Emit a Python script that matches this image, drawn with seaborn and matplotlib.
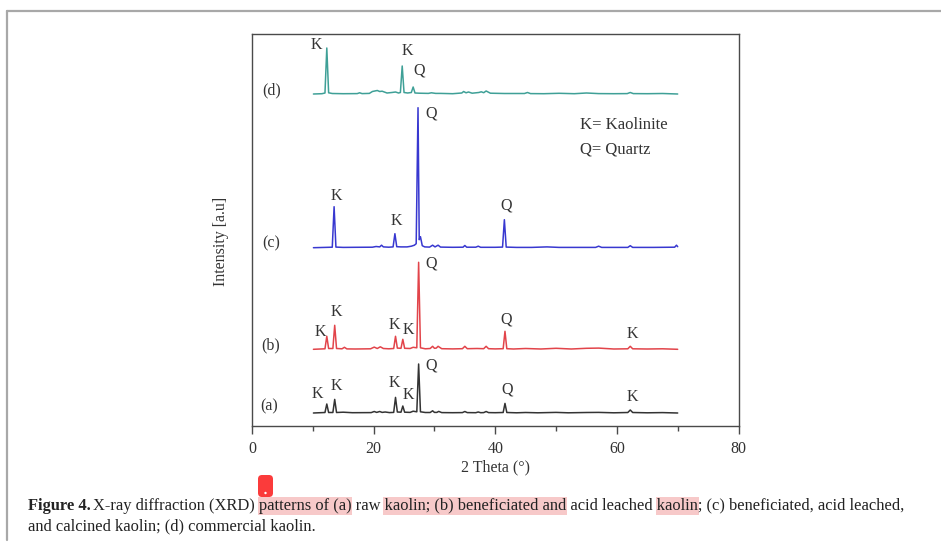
import numpy as np
import pandas as pd
import matplotlib
matplotlib.use("Agg")
import matplotlib.pyplot as plt
import seaborn as sns
from matplotlib.patches import Rectangle, FancyBboxPatch, Circle
from matplotlib.lines import Line2D
from matplotlib.transforms import IdentityTransform

# ---------------- data (2 Theta in degrees, intensity in a.u.) ----------------
a_theta = [10.1, 12.0, 12.3, 12.6, 13.3, 13.6, 13.9, 15.0, 16.5, 19.6, 20.1, 20.5, 21.0, 21.4, 21.9, 22.6,
           23.3, 23.6, 23.9, 24.5, 24.8, 25.1, 26.0, 26.5, 27.1, 27.4, 27.7, 28.5, 29.3, 29.7, 30.0, 30.4,
           30.7, 31.2, 33.0, 34.6, 35.0, 35.4, 36.8, 37.2, 37.6, 38.1, 38.5, 38.9, 40.0, 41.3, 41.6, 41.9,
           43.5, 45.0, 47.0, 50.0, 52.0, 55.0, 57.0, 59.5, 61.8, 62.2, 62.6, 65.0, 67.5, 70.0]
a_int = [0, 0.5, 9, 0.5, 0.5, 13.6, 0.5, 0.8, 0.3, 0.4, 1.5, 0.6, 1.5, 0.6, 1.0, 0.4,
         0.6, 15.6, 1.0, 0.8, 7, 0.8, 0.6, 1.8, 1.2, 49, 1.2, 0.5, 0.5, 2.2, 0.6, 0.6,
         1.6, 0.4, 0.3, 0.4, 1.5, 0.4, 0.3, 1.0, 0.3, 0.4, 1.5, 0.4, 0.3, 0.5, 9.6, 0.5,
         0.2, 0.5, 0.2, 0.6, 0.2, 0.5, 0.6, 0.2, 0.5, 3, 0.5, 0.2, 0.4, 0]

b_theta = [10.1, 12.0, 12.3, 12.6, 13.3, 13.6, 13.9, 14.8, 15.2, 15.6, 17.0, 19.5, 20.1, 20.6, 21.1, 21.6,
           22.5, 23.3, 23.6, 23.9, 24.5, 24.8, 25.1, 26.0, 26.5, 27.1, 27.4, 27.7, 28.5, 29.3, 29.7, 30.0,
           30.3, 30.6, 31.2, 33.0, 34.6, 35.0, 35.4, 37.0, 38.1, 38.5, 38.9, 40.0, 41.3, 41.6, 41.9, 43.0,
           45.0, 47.5, 50.0, 52.5, 55.0, 57.0, 59.5, 61.8, 62.2, 62.6, 65.0, 67.5, 70.0]
b_int = [0, 0.5, 13, 0.8, 0.8, 24, 0.8, 0.5, 2, 0.4, 0.3, 0.5, 2.2, 0.8, 2.5, 0.8,
         0.5, 0.8, 13, 1.2, 1.0, 10, 1.0, 0.8, 2.0, 1.5, 87, 1.5, 0.5, 0.8, 3, 1.0,
         1.2, 3, 0.6, 0.4, 0.6, 3, 0.6, 0.8, 0.6, 3, 0.6, 0.4, 0.6, 18, 0.6, 0.3,
         0.8, 0.3, 1.0, 0.3, 1.0, 1.2, 0.3, 0.5, 3, 0.5, 0.3, 0.5, 0]

c_theta = [10.1, 12.0, 13.2, 13.5, 13.8, 15.0, 17.0, 19.8, 20.4, 21.0, 21.3, 21.6, 22.5, 23.2, 23.5, 23.8,
           24.5, 25.5, 26.2, 26.7, 27.0, 27.3, 27.5, 27.7, 28.0, 28.4, 29.2, 29.7, 30.1, 30.6, 31.0, 33.0,
           34.7, 35.0, 35.3, 36.8, 37.2, 37.6, 40.0, 41.2, 41.5, 41.8, 43.5, 46.0, 48.5, 50.5, 53.0, 56.5,
           57.0, 57.5, 61.8, 62.2, 62.6, 66.0, 69.5, 69.8, 70.0]
c_int = [0, 0.3, 0.5, 41, 0.6, 0.3, 0.4, 0.5, 1.2, 0.8, 2.5, 0.8, 0.5, 0.8, 14, 1.0,
         0.8, 0.8, 1.5, 2.5, 4, 140, 8, 11, 2, 0.8, 0.6, 2.5, 0.8, 2.5, 0.6, 0.4,
         0.5, 2.2, 0.5, 0.5, 1.5, 0.4, 0.4, 0.6, 28, 0.6, 0.3, 0.3, 0.8, 0.3, 0.3, 0.3,
         1.5, 0.3, 0.3, 2, 0.3, 0.3, 0.5, 2.5, 1.0]

d_theta = [10.1, 11.5, 12.0, 12.3, 12.6, 13.2, 15.0, 17.3, 17.7, 18.1, 19.3, 19.8, 20.2, 20.6, 21.0, 21.4,
           22.2, 23.0, 23.6, 24.1, 24.4, 24.7, 25.0, 25.6, 26.2, 26.5, 26.8, 27.5, 29.0, 29.5, 30.2, 31.0,
           33.0, 34.5, 34.8, 35.2, 35.6, 36.2, 37.3, 37.7, 38.1, 38.5, 39.2, 41.5, 44.8, 45.3, 45.8, 48.0,
           50.5, 53.0, 55.0, 57.0, 59.5, 61.7, 62.2, 62.7, 65.0, 67.5, 70.0]
d_int = [0, 0.3, 1.0, 46, 1.2, 0.5, 0.3, 0.4, 1.2, 0.4, 0.6, 2.5, 3.0, 3.5, 2.5, 2.8,
         1.0, 1.5, 2.0, 1.0, 1.5, 28, 1.5, 1.0, 1.5, 7, 1.0, 0.8, 0.6, 1.2, 0.6, 0.6,
         0.3, 1.0, 2.5, 1.2, 2.0, 0.8, 1.5, 2.2, 1.3, 3.0, 0.8, 0.5, 0.5, 1.5, 0.4, 0.3,
         0.7, 0.3, 1.0, 0.4, 0.3, 0.4, 1.5, 0.4, 0.3, 0.5, 0]

series_names = ["(a)", "(b)", "(c)", "(d)"]
x_ticks = [0, 20, 40, 60, 80]
x_minor = [10, 30, 50, 70]

# ---------------- styling / layout ----------------
sns.set_theme(style="white")
plt.rcParams['font.family'] = ['Liberation Serif', 'DejaVu Serif']

W, H = 941, 546
fig = plt.figure(figsize=(W / 100, H / 100), dpi=100)
fig.patch.set_facecolor("white")

ax_l, ax_r, ax_t, ax_b = 252, 738.5, 34, 425.7
ax = fig.add_axes([ax_l / W, 1 - ax_b / H, (ax_r - ax_l) / W, (ax_b - ax_t) / H])

offsets = {"(a)": 12.7, "(b)": 76.4, "(c)": 178.0, "(d)": 331.7}
colors = {"(a)": "#333333", "(b)": "#e2444a", "(c)": "#3838d0", "(d)": "#3fa097"}
thetas = {"(a)": a_theta, "(b)": b_theta, "(c)": c_theta, "(d)": d_theta}
ints = {"(a)": a_int, "(b)": b_int, "(c)": c_int, "(d)": d_int}

frames = []
for n in series_names:
    df = pd.DataFrame({"theta": thetas[n], "intensity": np.array(ints[n]) + offsets[n], "sample": n})
    frames.append(df)
data = pd.concat(frames, ignore_index=True)

sns.lineplot(data=data, x="theta", y="intensity", hue="sample", palette=colors,
             estimator=None, sort=False, lw=1.1, ax=ax, legend=False)

ax.set_xlim(0, 80)
ax.set_ylim(0, ax_b - ax_t)
ax.set_xticks(x_ticks)
ax.set_xticks(x_minor, minor=True)
ax.set_xticklabels([str(t) for t in x_ticks])
ax.set_yticks([])
for s in ax.spines.values():
    s.set_visible(True)
    s.set_color("#4a4a4a")
    s.set_linewidth(1.0)
ax.tick_params(axis="x", which="major", direction="out", length=6, width=1.0,
               color="#4a4a4a", labelsize=11.5, labelcolor="#333333", pad=5, bottom=True)
ax.tick_params(axis="x", which="minor", direction="out", length=3.5, width=1.0,
               color="#4a4a4a", bottom=True)
ax.set_xlabel("2 Theta (°)", fontsize=11.5, color="#333333", labelpad=2)
ax.set_ylabel("")

# series labels
series_label_pos = {"(a)": (2.8, 19), "(b)": (3.0, 80.7), "(c)": (3.1, 182.4), "(d)": (3.3, 335.7)}
for n, (x, y) in series_label_pos.items():
    ax.text(x, y, n, fontsize=11.5, color="#333333", ha="center", va="center")

# peak labels
peak_labels = [
    ("K", 10.7, 31.7), ("K", 13.8, 39.7), ("K", 23.4, 43.0), ("K", 25.7, 31.0),
    ("Q", 29.4, 60.7), ("Q", 41.9, 36.7), ("K", 62.6, 29.0),
    ("K", 11.2, 94.0), ("K", 13.9, 114.0), ("K", 23.4, 100.7), ("K", 25.7, 95.7),
    ("Q", 29.4, 162.4), ("Q", 41.8, 105.7), ("K", 62.6, 91.4),
    ("K", 13.8, 229.7), ("K", 23.8, 204.7), ("Q", 29.5, 311.7), ("Q", 41.8, 219.7),
    ("K", 10.65, 380.7), ("K", 25.6, 375.0), ("Q", 27.5, 355.0),
]
for t, x, y in peak_labels:
    ax.text(x, y, t, fontsize=11.5, color="#333333", ha="center", va="center")

ax.text(54.0, 300.7, "K= Kaolinite", fontsize=12, color="#333333", ha="left", va="center")
ax.text(54.0, 275.7, "Q= Quartz", fontsize=12, color="#333333", ha="left", va="center")

# y label
fig.text(221 / W, 1 - 241 / H, "Intensity [a.u]", rotation=90, fontsize=11.5,
         color="#333333", ha="center", va="center")

# page frame (top and left grey rules)
px = IdentityTransform()
fig.add_artist(Line2D([7, W], [H - 10.7, H - 10.7], transform=px, color="#a8a8a8", lw=1.6))
fig.add_artist(Line2D([7, 7], [H - 10.7, H - 540], transform=px, color="#a8a8a8", lw=1.6))

# caption
renderer = fig.canvas.get_renderer()


def textw(s, fs, weight="normal"):
    t = fig.text(0, 0, s, fontsize=fs, weight=weight)
    w = t.get_window_extent(renderer).width
    t.remove()
    return w


bold_part = "Figure 4."
rest1 = "X-ray diffraction (XRD) patterns of (a) raw kaolin; (b) beneficiated and acid leached kaolin; (c) beneficiated, acid leached,"
line2 = "and calcined kaolin; (d) commercial kaolin."
fs = 11.0
target = 905 - 28
total = textw(bold_part, fs, "bold") + 2 + textw(rest1, fs)
fs = fs * target / total
wb = textw(bold_part, fs, "bold")
sp = textw("a a", fs) - textw("aa", fs)
x0 = 28
xr = x0 + wb + 2
y1 = H - 506
y2 = H - 526

highlights = ["patterns of (a)", "kaolin; (b) beneficiated and", "kaolin"]
search_from = 0
for hl in highlights:
    i = rest1.find(hl, search_from)
    start = xr + textw(rest1[:i].rstrip(), fs) + sp if i > 0 else xr
    end = xr + textw(rest1[:i + len(hl)], fs)
    search_from = i + len(hl)
    fig.add_artist(Rectangle((start - 1, H - 515), end - start + 2, 18, transform=px,
                             facecolor="#f7c9c9", edgecolor="none", zorder=0))

fig.text(x0, y1, bold_part, fontsize=fs, weight="bold", color="#222222",
         transform=px, ha="left", va="center", zorder=2)
fig.text(xr, y1, rest1, fontsize=fs, color="#222222", transform=px, ha="left", va="center", zorder=2)
fig.text(x0, y2, line2, fontsize=fs, color="#222222", transform=px, ha="left", va="center", zorder=2)

# red annotation marker
fig.add_artist(FancyBboxPatch((258, H - 497), 15, 22, boxstyle="round,pad=0,rounding_size=4",
                              transform=px, facecolor="#fb3b3b", edgecolor="none", zorder=3))
fig.add_artist(Circle((265.5, H - 493), 1.2, transform=px, facecolor="white", edgecolor="none", zorder=4))

fig.savefig("out.png", dpi=100, facecolor="white")
